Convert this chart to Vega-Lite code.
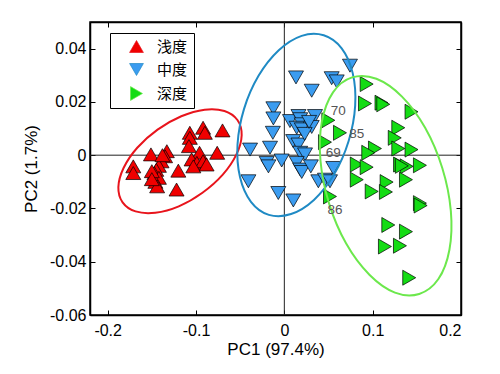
{
  "$schema": "https://vega.github.io/schema/vega-lite/v6.json",
  "autosize": "none",
  "width": 371,
  "height": 293,
  "padding": {"left": 90, "top": 22, "right": 39, "bottom": 59},
  "background": "#ffffff",
  "config": {
    "view": {"stroke": "#000000", "strokeWidth": 1.5},
    "font": "Liberation Sans",
    "axis": {"grid": false, "domainColor": "#000000", "domainWidth": 1.5, "tickColor": "#000000", "tickWidth": 1, "labelColor": "#000000", "titleColor": "#000000", "labelFont": "Liberation Sans", "titleFont": "Liberation Sans", "labelFontSize": 16, "titleFontSize": 17, "titleFontWeight": "normal"}
  },
  "datasets": {
    "pts": [
      {"g": "浅度", "x": -0.171, "y": -0.0042}, {"g": "浅度", "x": -0.171, "y": -0.0067}, {"g": "浅度", "x": -0.151, "y": 0.0003},
      {"g": "浅度", "x": -0.133, "y": 0.0015}, {"g": "浅度", "x": -0.135, "y": -0.0004}, {"g": "浅度", "x": -0.139, "y": -0.0023},
      {"g": "浅度", "x": -0.142, "y": -0.004}, {"g": "浅度", "x": -0.145, "y": -0.0055}, {"g": "浅度", "x": -0.147, "y": -0.0068},
      {"g": "浅度", "x": -0.142, "y": -0.0085}, {"g": "浅度", "x": -0.146, "y": -0.01}, {"g": "浅度", "x": -0.144, "y": -0.0117},
      {"g": "浅度", "x": -0.15, "y": -0.006}, {"g": "浅度", "x": -0.12, "y": -0.0058}, {"g": "浅度", "x": -0.122, "y": -0.0129},
      {"g": "浅度", "x": -0.107, "y": 0.0084}, {"g": "浅度", "x": -0.107, "y": 0.0065}, {"g": "浅度", "x": -0.108, "y": 0.0034},
      {"g": "浅度", "x": -0.092, "y": 0.0103}, {"g": "浅度", "x": -0.09, "y": 0.0084}, {"g": "浅度", "x": -0.07, "y": 0.0093},
      {"g": "浅度", "x": -0.076, "y": 0.0009}, {"g": "浅度", "x": -0.096, "y": 0.0009}, {"g": "浅度", "x": -0.105, "y": -0.0016},
      {"g": "浅度", "x": -0.099, "y": -0.0029}, {"g": "浅度", "x": -0.092, "y": -0.0023}, {"g": "浅度", "x": -0.103, "y": -0.0042},
      {"g": "浅度", "x": -0.15, "y": -0.009}, {"g": "浅度", "x": -0.138, "y": 0.0}, {"g": "浅度", "x": -0.088, "y": -0.0035},
      {"g": "中度", "x": 0.0743, "y": 0.0336}, {"g": "中度", "x": 0.0132, "y": 0.0292}, {"g": "中度", "x": 0.0536, "y": 0.0289},
      {"g": "中度", "x": 0.0593, "y": 0.0277}, {"g": "中度", "x": 0.031, "y": 0.0242}, {"g": "中度", "x": -0.0124, "y": 0.0176},
      {"g": "中度", "x": -0.0124, "y": 0.0138}, {"g": "中度", "x": -0.013, "y": 0.0084}, {"g": "中度", "x": 0.0064, "y": 0.0128},
      {"g": "中度", "x": 0.016, "y": 0.0147}, {"g": "中度", "x": 0.018, "y": 0.0135}, {"g": "中度", "x": 0.0197, "y": 0.0116},
      {"g": "中度", "x": 0.014, "y": 0.0103}, {"g": "中度", "x": 0.0197, "y": 0.0097}, {"g": "中度", "x": 0.0347, "y": 0.0147},
      {"g": "中度", "x": 0.031, "y": 0.0106}, {"g": "中度", "x": 0.01, "y": 0.0053}, {"g": "中度", "x": 0.016, "y": 0.004},
      {"g": "中度", "x": 0.018, "y": 0.0009}, {"g": "中度", "x": 0.0234, "y": 0.0003}, {"g": "中度", "x": -0.0388, "y": 0.0021},
      {"g": "中度", "x": -0.0162, "y": 0.0028}, {"g": "中度", "x": -0.02, "y": -0.0029}, {"g": "中度", "x": -0.018, "y": -0.0042},
      {"g": "中度", "x": -0.003, "y": -0.002}, {"g": "中度", "x": 0.014, "y": -0.0029}, {"g": "中度", "x": 0.018, "y": -0.0054},
      {"g": "中度", "x": 0.0197, "y": -0.0063}, {"g": "中度", "x": 0.03, "y": -0.0042}, {"g": "中度", "x": 0.0554, "y": -0.0048},
      {"g": "中度", "x": -0.0407, "y": -0.0098}, {"g": "中度", "x": 0.0385, "y": -0.0098}, {"g": "中度", "x": 0.046, "y": -0.0092},
      {"g": "中度", "x": 0.0517, "y": -0.0098}, {"g": "中度", "x": -0.0068, "y": -0.0142}, {"g": "中度", "x": 0.0102, "y": -0.017},
      {"g": "中度", "x": 0.023, "y": 0.008}, {"g": "中度", "x": 0.028, "y": 0.0125},
      {"g": "深度", "x": 0.0932, "y": 0.0267}, {"g": "深度", "x": 0.0913, "y": 0.0194}, {"g": "深度", "x": 0.11, "y": 0.0197},
      {"g": "深度", "x": 0.112, "y": 0.0191}, {"g": "深度", "x": 0.144, "y": 0.0163}, {"g": "深度", "x": 0.0498, "y": 0.0131},
      {"g": "深度", "x": 0.063, "y": 0.0084}, {"g": "深度", "x": 0.046, "y": 0.0049}, {"g": "深度", "x": 0.129, "y": 0.0103},
      {"g": "深度", "x": 0.125, "y": 0.0065}, {"g": "深度", "x": 0.1026, "y": 0.0025}, {"g": "深度", "x": 0.095, "y": 0.0009},
      {"g": "深度", "x": 0.129, "y": 0.0025}, {"g": "深度", "x": 0.144, "y": 0.0021}, {"g": "深度", "x": 0.082, "y": -0.0035},
      {"g": "深度", "x": 0.0932, "y": -0.0045}, {"g": "深度", "x": 0.131, "y": -0.0035}, {"g": "深度", "x": 0.1385, "y": -0.0042},
      {"g": "深度", "x": 0.1535, "y": -0.0038}, {"g": "深度", "x": 0.082, "y": -0.0092}, {"g": "深度", "x": 0.0989, "y": -0.0136},
      {"g": "深度", "x": 0.1158, "y": -0.0101}, {"g": "深度", "x": 0.115, "y": -0.0138}, {"g": "深度", "x": 0.1377, "y": -0.0092},
      {"g": "深度", "x": 0.0517, "y": -0.0155}, {"g": "深度", "x": 0.1535, "y": -0.018}, {"g": "深度", "x": 0.1543, "y": -0.0189},
      {"g": "深度", "x": 0.1177, "y": -0.0262}, {"g": "深度", "x": 0.1377, "y": -0.0287}, {"g": "深度", "x": 0.1139, "y": -0.0343},
      {"g": "深度", "x": 0.1309, "y": -0.034}, {"g": "深度", "x": 0.1414, "y": -0.046}, {"g": "深度", "x": 0.133, "y": -0.004}
    ],
    "ell": [
      {"g": "浅度", "i": 0, "x": -0.0531, "y": 0.0132}, {"g": "浅度", "i": 1, "x": -0.0483, "y": 0.0075}, {"g": "浅度", "i": 2, "x": -0.0542, "y": 0.0003},
      {"g": "浅度", "i": 3, "x": -0.0697, "y": -0.0073}, {"g": "浅度", "i": 4, "x": -0.0927, "y": -0.0141}, {"g": "浅度", "i": 5, "x": -0.1195, "y": -0.0192},
      {"g": "浅度", "i": 6, "x": -0.146, "y": -0.0216}, {"g": "浅度", "i": 7, "x": -0.1684, "y": -0.0211}, {"g": "浅度", "i": 8, "x": -0.1831, "y": -0.0177},
      {"g": "浅度", "i": 9, "x": -0.1879, "y": -0.012}, {"g": "浅度", "i": 10, "x": -0.182, "y": -0.0048}, {"g": "浅度", "i": 11, "x": -0.1665, "y": 0.0028},
      {"g": "浅度", "i": 12, "x": -0.1435, "y": 0.0096}, {"g": "浅度", "i": 13, "x": -0.1167, "y": 0.0146}, {"g": "浅度", "i": 14, "x": -0.0902, "y": 0.0171},
      {"g": "浅度", "i": 15, "x": -0.0678, "y": 0.0166},
      {"g": "中度", "i": 0, "x": 0.0446, "y": 0.045}, {"g": "中度", "i": 1, "x": 0.0649, "y": 0.0401}, {"g": "中度", "i": 2, "x": 0.0774, "y": 0.0308},
      {"g": "中度", "i": 3, "x": 0.0802, "y": 0.0186}, {"g": "中度", "i": 4, "x": 0.0728, "y": 0.0053}, {"g": "中度", "i": 5, "x": 0.0564, "y": -0.0072},
      {"g": "中度", "i": 6, "x": 0.0335, "y": -0.0168}, {"g": "中度", "i": 7, "x": 0.0076, "y": -0.0221}, {"g": "中度", "i": 8, "x": -0.0175, "y": -0.0224},
      {"g": "中度", "i": 9, "x": -0.0378, "y": -0.0175}, {"g": "中度", "i": 10, "x": -0.0502, "y": -0.0082}, {"g": "中度", "i": 11, "x": -0.053, "y": 0.004},
      {"g": "中度", "i": 12, "x": -0.0456, "y": 0.0174}, {"g": "中度", "i": 13, "x": -0.0292, "y": 0.0298}, {"g": "中度", "i": 14, "x": -0.0063, "y": 0.0394},
      {"g": "中度", "i": 15, "x": 0.0196, "y": 0.0448},
      {"g": "深度", "i": 0, "x": 0.1527, "y": -0.0521}, {"g": "深度", "i": 1, "x": 0.1252, "y": -0.0516}, {"g": "深度", "i": 2, "x": 0.0963, "y": -0.0449},
      {"g": "深度", "i": 3, "x": 0.07, "y": -0.0332}, {"g": "深度", "i": 4, "x": 0.0506, "y": -0.0181}, {"g": "深度", "i": 5, "x": 0.0409, "y": -0.002},
      {"g": "深度", "i": 6, "x": 0.0425, "y": 0.0126}, {"g": "深度", "i": 7, "x": 0.0551, "y": 0.0236}, {"g": "深度", "i": 8, "x": 0.0767, "y": 0.0292},
      {"g": "深度", "i": 9, "x": 0.1042, "y": 0.0287}, {"g": "深度", "i": 10, "x": 0.1332, "y": 0.022}, {"g": "深度", "i": 11, "x": 0.1594, "y": 0.0103},
      {"g": "深度", "i": 12, "x": 0.1788, "y": -0.0048}, {"g": "深度", "i": 13, "x": 0.1885, "y": -0.0209}, {"g": "深度", "i": 14, "x": 0.1869, "y": -0.0355},
      {"g": "深度", "i": 15, "x": 0.1744, "y": -0.0465}
    ],
    "lab": [
      {"t": "70", "x": 0.0611, "y": 0.0166},
      {"t": "85", "x": 0.0819, "y": 0.008},
      {"t": "69", "x": 0.0554, "y": 0.0009},
      {"t": "86", "x": 0.0574, "y": -0.0205}
    ]
  },
  "resolve": {"axis": {"x": "independent", "y": "independent"}},
  "layer": [
    {
      "data": {"values": [{"v": 0}]},
      "mark": {"type": "rule", "color": "#222222", "strokeWidth": 1},
      "encoding": {
        "x": {"field": "v", "type": "quantitative", "scale": {"domain": [-0.22, 0.2], "nice": false, "zero": false}, "axis": null}
      }
    },
    {
      "data": {"values": [{"v": 0}]},
      "mark": {"type": "rule", "color": "#222222", "strokeWidth": 1},
      "encoding": {
        "y": {"field": "v", "type": "quantitative", "scale": {"domain": [-0.06, 0.05], "nice": false, "zero": false}, "axis": null}
      }
    },
    {
      "data": {"name": "pts"},
      "mark": {"type": "point", "filled": true, "opacity": 1, "size": 225, "stroke": "#000000", "strokeWidth": 0.7},
      "encoding": {
        "x": {"field": "x", "type": "quantitative", "scale": {"domain": [-0.22, 0.2], "nice": false, "zero": false},
              "axis": {"orient": "bottom", "title": "PC1 (97.4%)", "values": [-0.2, -0.1, 0, 0.1, 0.2], "tickSize": -5, "labelPadding": 12, "titlePadding": 3,
                       "labelExpr": "replace(format(datum.value, '~g'), '\u2212', '-')"}},
        "y": {"field": "y", "type": "quantitative", "scale": {"domain": [-0.06, 0.05], "nice": false, "zero": false},
              "axis": {"orient": "left", "title": "PC2 (1.7%)", "values": [-0.06, -0.04, -0.02, 0, 0.02, 0.04], "tickSize": -5, "labelPadding": 9, "titlePadding": 9,
                       "labelExpr": "replace(format(datum.value, '~g'), '\u2212', '-')"}},
        "color": {"field": "g", "type": "nominal",
                  "scale": {"domain": ["浅度", "中度", "深度"], "range": ["#f00000", "#3b9cf0", "#14dc14"]},
                  "legend": {"title": null, "orient": "none", "legendX": 20, "legendY": 11, "strokeColor": "#000000", "fillColor": "#ffffff", "padding": 6,
                             "symbolOffset": 13, "labelOffset": 13, "labelFont": "Noto Sans CJK SC", "labelFontSize": 15, "labelColor": "#000000",
                             "rowPadding": 7, "symbolSize": 190, "symbolStrokeColor": "#000000", "symbolStrokeWidth": 0.7}},
        "shape": {"field": "g", "type": "nominal",
                  "scale": {"domain": ["浅度", "中度", "深度"], "range": ["triangle-up", "triangle-down", "triangle-right"]},
                  "legend": {"title": null, "orient": "none", "legendX": 20, "legendY": 11, "strokeColor": "#000000", "fillColor": "#ffffff", "padding": 6,
                             "symbolOffset": 13, "labelOffset": 13, "labelFont": "Noto Sans CJK SC", "labelFontSize": 15, "labelColor": "#000000",
                             "rowPadding": 7, "symbolSize": 190, "symbolStrokeColor": "#000000", "symbolStrokeWidth": 0.7}}
      }
    },
    {
      "data": {"name": "ell"},
      "mark": {"type": "line", "interpolate": "cardinal-closed", "strokeWidth": 2},
      "encoding": {
        "x": {"field": "x", "type": "quantitative", "scale": {"domain": [-0.22, 0.2], "nice": false, "zero": false},
              "axis": {"orient": "top", "title": null, "labels": false, "values": [-0.2, -0.1, 0, 0.1, 0.2], "tickSize": -5}},
        "y": {"field": "y", "type": "quantitative", "scale": {"domain": [-0.06, 0.05], "nice": false, "zero": false},
              "axis": {"orient": "right", "title": null, "labels": false, "values": [-0.06, -0.04, -0.02, 0, 0.02, 0.04], "tickSize": -5}},
        "stroke": {"field": "g", "type": "nominal", "scale": {"domain": ["浅度", "中度", "深度"], "range": ["#e8141c", "#1f8ac4", "#6ce84c"]}, "legend": null},
        "order": {"field": "i", "type": "quantitative"}
      }
    },
    {
      "data": {"name": "lab"},
      "mark": {"type": "text", "fontSize": 13.5, "color": "#555555", "align": "center", "baseline": "middle", "font": "Liberation Sans"},
      "encoding": {
        "x": {"field": "x", "type": "quantitative", "scale": {"domain": [-0.22, 0.2], "nice": false, "zero": false}, "axis": null},
        "y": {"field": "y", "type": "quantitative", "scale": {"domain": [-0.06, 0.05], "nice": false, "zero": false}, "axis": null},
        "text": {"field": "t", "type": "nominal"}
      }
    }
  ]
}
